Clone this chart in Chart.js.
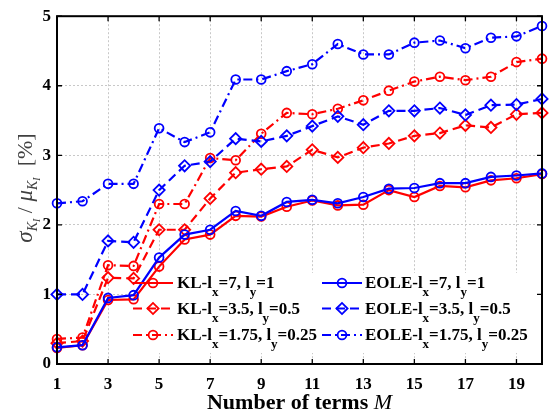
<!DOCTYPE html>
<html lang="en">
<head>
<meta charset="UTF-8">
<title>sigma / mu vs number of terms</title>
<script src="https://cdn.jsdelivr.net/npm/chart.js@4.4.1/dist/chart.umd.min.js"></script>
<style>
  html, body { margin: 0; padding: 0; background: #fff; }
  #wrap { width: 555px; height: 418px; }
</style>
</head>
<body>
<div id="wrap"><canvas id="myChart" width="555" height="418"></canvas></div>
<script>
// number of terms M
const terms = [1, 2, 3, 4, 5, 6, 7, 8, 9, 10, 11, 12, 13, 14, 15, 16, 17, 18, 19, 20];
const xTicks = [1, 3, 5, 7, 9, 11, 13, 15, 17, 19];
const yTicks = [0, 1, 2, 3, 4, 5];

// sigma/mu [%]
const klL7   = [0.23, 0.27, 0.92, 0.93, 1.40, 1.79, 1.86, 2.13, 2.12, 2.26, 2.35, 2.28, 2.29, 2.50, 2.40, 2.56, 2.54, 2.64, 2.67, 2.73];
const klL35  = [0.30, 0.33, 1.24, 1.23, 1.93, 1.93, 2.38, 2.75, 2.80, 2.84, 3.08, 2.97, 3.11, 3.17, 3.28, 3.32, 3.43, 3.40, 3.59, 3.61];
const klL175 = [0.36, 0.38, 1.42, 1.41, 2.30, 2.30, 2.96, 2.93, 3.31, 3.61, 3.59, 3.67, 3.79, 3.93, 4.06, 4.13, 4.08, 4.13, 4.34, 4.39];
const eoleL7   = [0.24, 0.27, 0.95, 0.99, 1.53, 1.86, 1.93, 2.20, 2.13, 2.33, 2.36, 2.31, 2.40, 2.52, 2.53, 2.60, 2.60, 2.69, 2.71, 2.74];
const eoleL35  = [1.00, 1.00, 1.77, 1.75, 2.50, 2.85, 2.91, 3.24, 3.20, 3.28, 3.42, 3.56, 3.44, 3.64, 3.64, 3.68, 3.58, 3.72, 3.73, 3.81];
const eoleL175 = [2.31, 2.34, 2.59, 2.59, 3.39, 3.19, 3.33, 4.09, 4.09, 4.21, 4.31, 4.60, 4.45, 4.45, 4.62, 4.65, 4.54, 4.69, 4.71, 4.86];

// legend text pieces: [main, sub x, main, sub y, main]
const labels = [
  ['KL-l', 'x', '=7, l', 'y', '=1'],
  ['KL-l', 'x', '=3.5, l', 'y', '=0.5'],
  ['KL-l', 'x', '=1.75, l', 'y', '=0.25'],
  ['EOLE-l', 'x', '=7, l', 'y', '=1'],
  ['EOLE-l', 'x', '=3.5, l', 'y', '=0.5'],
  ['EOLE-l', 'x', '=1.75, l', 'y', '=0.25'],
];

const RED = '#ff0000', BLUE = '#0000ff';
const SOLID = [], DASH = [9, 5], DASHDOT = [9, 4, 2, 4];
const SERIF = '"Liberation Serif", "DejaVu Serif", serif';

function series(vals, color, dash, style, order) {
  return {
    data: terms.map((t, i) => ({x: t, y: vals[i]})),
    borderColor: color,
    backgroundColor: 'rgba(0,0,0,0)',
    pointBorderColor: color,
    pointBackgroundColor: 'rgba(0,0,0,0)',
    borderWidth: 2.2,
    pointBorderWidth: 1.8,
    borderDash: dash,
    pointStyle: style,
    pointRadius: style === 'circle' ? 4.4 : 5.6,
    tension: 0,
    clip: false,
    order: order,
  };
}

const datasets = [
  series(klL7, RED, SOLID, 'circle', 1),
  series(klL35, RED, DASH, 'rectRot', 1),
  series(klL175, RED, DASHDOT, 'circle', 1),
  series(eoleL7, BLUE, SOLID, 'circle', 0),
  series(eoleL35, BLUE, DASH, 'rectRot', 0),
  series(eoleL175, BLUE, DASHDOT, 'circle', 0),
];

// draws text pieces in a row; odd pieces are lowered subscripts
function subText(ctx, pieces, x, y, big, small, drop) {
  let cx = x;
  pieces.forEach((p, i) => {
    ctx.font = (i % 2 ? small : big);
    ctx.fillText(p, cx, y + (i % 2 ? drop : 0));
    cx += ctx.measureText(p).width;
  });
}

const decor = {
  id: 'decor',
  beforeDatasetsDraw(chart) {
    // legend background hides the grid only
    const {ctx, chartArea: a} = chart;
    ctx.save();
    ctx.fillStyle = '#fff';
    ctx.fillRect(128, 273, a.right - 130, 80);
    ctx.restore();
  },
  afterDraw(chart) {
    const {ctx, chartArea: a, scales} = chart;
    ctx.save();
    // inward tick marks
    ctx.strokeStyle = '#000';
    ctx.lineWidth = 1.3;
    ctx.setLineDash([]);
    ctx.beginPath();
    xTicks.forEach(v => {
      const px = scales.x.getPixelForValue(v);
      ctx.moveTo(px, a.bottom); ctx.lineTo(px, a.bottom - 5);
      ctx.moveTo(px, a.top); ctx.lineTo(px, a.top + 5);
    });
    yTicks.forEach(v => {
      const py = scales.y.getPixelForValue(v);
      ctx.moveTo(a.left, py); ctx.lineTo(a.left + 5, py);
      ctx.moveTo(a.right, py); ctx.lineTo(a.right - 5, py);
    });
    ctx.stroke();

    // legend entries
    const cols = [{lx: 133, tx: 177}, {lx: 322, tx: 365}];
    const rows = [283, 308.5, 335];
    labels.forEach((lab, i) => {
      const c = cols[Math.floor(i / 3)], ry = rows[i % 3];
      const ds = datasets[i];
      ctx.strokeStyle = ds.borderColor;
      ctx.lineWidth = ds.borderWidth;
      ctx.setLineDash(ds.borderDash);
      ctx.beginPath();
      ctx.moveTo(c.lx, ry); ctx.lineTo(c.lx + 40, ry);
      ctx.stroke();
      ctx.setLineDash([]);
      ctx.lineWidth = ds.pointBorderWidth;
      ctx.fillStyle = 'rgba(0,0,0,0)';
      Chart.helpers.drawPoint(ctx, {pointStyle: ds.pointStyle, radius: ds.pointRadius, rotation: 0, borderWidth: ds.pointBorderWidth}, c.lx + 20, ry);
      ctx.fillStyle = '#000';
      ctx.textBaseline = 'alphabetic';
      ctx.textAlign = 'left';
      subText(ctx, lab, c.tx, ry + 5, 'bold 17px ' + SERIF, 'bold 13px ' + SERIF, 8);
    });

    // frame
    ctx.strokeStyle = '#000';
    ctx.lineWidth = 2;
    ctx.strokeRect(a.left, a.top, a.right - a.left, a.bottom - a.top);

    // x title
    ctx.fillStyle = '#000';
    ctx.textBaseline = 'alphabetic';
    ctx.font = 'bold 22px ' + SERIF;
    const t1 = 'Number of terms ';
    const w1 = ctx.measureText(t1).width;
    ctx.font = 'italic 22px ' + SERIF;
    const w2 = ctx.measureText('M').width;
    const x0 = (a.left + a.right) / 2 - (w1 + w2) / 2;
    ctx.font = 'bold 22px ' + SERIF;
    ctx.fillText(t1, x0, 409);
    ctx.font = 'italic 22px ' + SERIF;
    ctx.fillText('M', x0 + w1, 409);

    // y title, rotated
    const parts = [
      ['σ', 'italic 23px ' + SERIF, 0],
      ['K', 'italic 14px ' + SERIF, 5],
      ['I', 'italic 10px ' + SERIF, 8],
      [' / ', '22px ' + SERIF, 0],
      ['μ', 'italic 23px ' + SERIF, 0],
      ['K', 'italic 14px ' + SERIF, 5],
      ['I', 'italic 10px ' + SERIF, 8],
      ['  [%]', '22px ' + SERIF, 0],
    ];
    let total = 0;
    parts.forEach(p => { ctx.font = p[1]; total += ctx.measureText(p[0]).width; });
    ctx.translate(32, 188);
    ctx.rotate(-Math.PI / 2);
    ctx.fillStyle = '#404040';
    let u = -total / 2;
    parts.forEach(p => {
      ctx.font = p[1];
      ctx.fillText(p[0], u, p[2]);
      u += ctx.measureText(p[0]).width;
    });
    ctx.restore();
  }
};

new Chart(document.getElementById('myChart').getContext('2d'), {
  type: 'line',
  data: {datasets: datasets},
  plugins: [decor],
  options: {
    responsive: false,
    animation: false,
    devicePixelRatio: 1,
    layout: {padding: {top: 14, right: 13, left: 0, bottom: 0}},
    plugins: {legend: {display: false}, tooltip: {enabled: false}},
    scales: {
      x: {
        type: 'linear', min: 1, max: 20,
        afterBuildTicks: s => { s.ticks = xTicks.map(v => ({value: v})); },
        afterFit: s => { s.height = 54; },
        grid: {color: '#c8c8c8', lineWidth: 1, drawTicks: false},
        border: {display: false, dash: [2, 2]},
        ticks: {color: '#000', font: {family: SERIF, size: 17, weight: 'bold'}, padding: 10, maxRotation: 0},
      },
      y: {
        type: 'linear', min: 0, max: 5,
        afterBuildTicks: s => { s.ticks = yTicks.map(v => ({value: v})); },
        afterFit: s => { s.width = 57; },
        grid: {color: '#c8c8c8', lineWidth: 1, drawTicks: false},
        border: {display: false, dash: [2, 2]},
        ticks: {color: '#000', font: {family: SERIF, size: 17, weight: 'bold'}, padding: 6},
      },
    },
  },
});
</script>
</body>
</html>
